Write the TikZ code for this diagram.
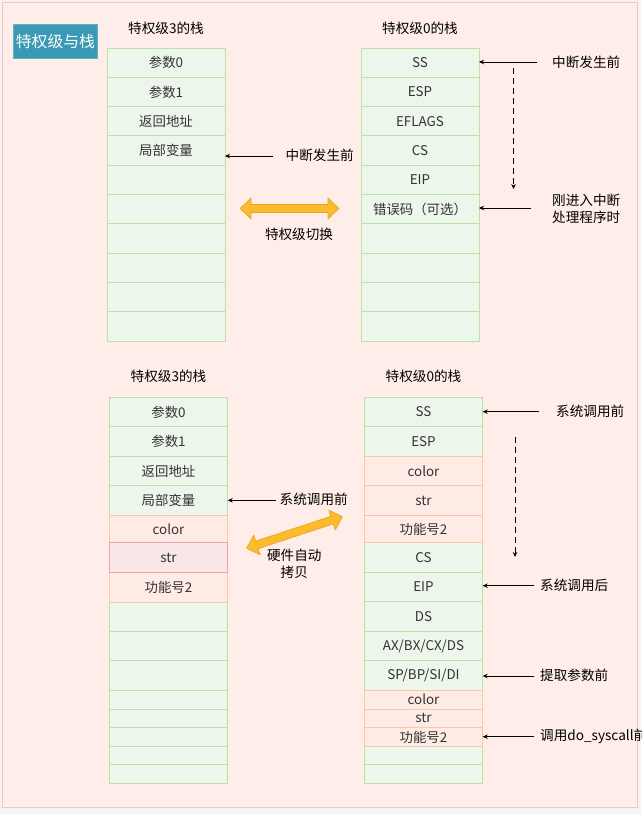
\documentclass[tikz,border=0pt]{standalone}
\usepackage{fontspec}
\setmainfont{Noto Sans CJK SC}
\usetikzlibrary{arrows.meta}
\definecolor{outerc}{HTML}{F3F3F3}
\definecolor{bgpink}{HTML}{FFEDE9}
\definecolor{bgline}{HTML}{F6C7B3}
\definecolor{gfill}{HTML}{EDF6EA}
\definecolor{gline}{HTML}{BCE2A8}
\definecolor{pfill}{HTML}{FFEBE5}
\definecolor{pline}{HTML}{F8C7AC}
\definecolor{rfill}{HTML}{F9E7E7}
\definecolor{rline}{HTML}{EBA3A3}
\definecolor{titlec}{HTML}{3A9AB6}
\definecolor{titleline}{HTML}{62B1C8}
\definecolor{txt}{HTML}{333333}
\definecolor{orfill}{HTML}{FBBB2C}
\definecolor{orline}{HTML}{E8A424}
\newcommand\C[7]{\node[#1,minimum width=#6,minimum height=#5,anchor=north west] (#2) at (#3,#4) {#7};}
\newcommand\dblarr[4]{%
  \begin{scope}[shift={(#1,#2)},rotate=#4]
    \pgfmathsetmacro\hh{#3/2}
    \filldraw[fill=orfill,draw=orline,line width=0.6pt,line join=round]
      (-\hh,0) -- (-\hh+11,-10.5) -- (-\hh+11,-4) -- (\hh-11,-4) -- (\hh-11,-10.5) -- (\hh,0)
      -- (\hh-11,10.5) -- (\hh-11,4) -- (-\hh+11,4) -- (-\hh+11,10.5) -- cycle;
  \end{scope}}
\begin{document}
\begin{tikzpicture}[x=1pt,y=-1pt,
  cellbase/.style={inner sep=0pt,outer sep=0pt,line width=1pt,text=txt,font=\fontsize{13.4}{15}\selectfont},
  gcell/.style={cellbase,fill=gfill,draw=gline},
  pcell/.style={cellbase,fill=pfill,draw=pline},
  rcell/.style={cellbase,fill=rfill,draw=rline},
  lbl/.style={inner sep=0pt,text=black,font=\fontsize{13.6}{17}\selectfont},
  arr/.style={line width=0.9pt,-{Stealth[length=5pt,width=4.5pt]}},
  darr/.style={arr,dash pattern=on 6pt off 4pt}]
\useasboundingbox (0,0) rectangle (641,814);
\fill[outerc] (0,0) rectangle (641,814);
\draw[fill=bgpink,draw=bgline,line width=1pt] (2.5,2.5) rectangle (637,807.5);
% title
\node[fill=titlec,draw=titleline,line width=0.8pt,text=white,minimum width=84,minimum height=34,inner sep=0pt,anchor=north west,font=\fontsize{15.8}{18}\selectfont] (title) at (13,24) {特权级与栈};
% top stack titles
\node[lbl] (t3a) at (166,28) {特权级3的栈};
\node[lbl] (t0a) at (420,28) {特权级0的栈};
% top-left stack
\C{gcell}{a1}{107}{48}{29.3}{118}{参数0}
\C{gcell}{a2}{107}{77.3}{29.3}{118}{参数1}
\C{gcell}{a3}{107}{106.6}{29.3}{118}{返回地址}
\C{gcell}{a4}{107}{135.9}{29.3}{118}{局部变量}
\C{gcell}{a5}{107}{165.2}{29.3}{118}{}
\C{gcell}{a6}{107}{194.5}{29.3}{118}{}
\C{gcell}{a7}{107}{223.8}{29.3}{118}{}
\C{gcell}{a8}{107}{253.1}{29.3}{118}{}
\C{gcell}{a9}{107}{282.4}{29.3}{118}{}
\C{gcell}{a10}{107}{311.7}{29.3}{118}{}
% top-right stack
\C{gcell}{b1}{361}{48}{29.3}{118}{SS}
\C{gcell}{b2}{361}{77.3}{29.3}{118}{ESP}
\C{gcell}{b3}{361}{106.6}{29.3}{118}{EFLAGS}
\C{gcell}{b4}{361}{135.9}{29.3}{118}{CS}
\C{gcell}{b5}{361}{165.2}{29.3}{118}{EIP}
\C{gcell}{b6}{361}{194.5}{29.3}{118}{错误码（可选）}
\C{gcell}{b7}{361}{223.8}{29.3}{118}{}
\C{gcell}{b8}{361}{253.1}{29.3}{118}{}
\C{gcell}{b9}{361}{282.4}{29.3}{118}{}
\C{gcell}{b10}{361}{311.7}{29.3}{118}{}
% top labels and arrows
\node[lbl,anchor=west] (la) at (285.5,155) {中断发生前};
\coordinate (la0) at (273,156);
\draw[arr] (la0) -- (la0 -| a4.east);
\node[lbl,anchor=west] (lb1) at (552,62) {中断发生前};
\coordinate (lb10) at (536.5,62);
\draw[arr] (lb10) -- (lb10 -| b1.east);
\node[lbl,anchor=west,align=left] (lb2) at (552,208.5) {刚进入中断\\处理程序时};
\coordinate (lb20) at (531,208);
\draw[arr] (lb20) -- (lb20 -| b6.east);
\coordinate (da1) at (513.5,68);
\coordinate (da2) at (513.5,189);
\draw[darr] (da1) -- (da2);
\dblarr{289.5}{208.5}{99}{0}
\node[lbl] (sw) at (299,234.5) {特权级切换};
% bottom stack titles
\node[lbl] (t3b) at (168.5,376) {特权级3的栈};
\node[lbl] (t0b) at (423.5,376) {特权级0的栈};
% bottom-left stack
\C{gcell}{c1}{109.3}{397.3}{29.4}{118.4}{参数0}
\C{gcell}{c2}{109.3}{426.7}{30}{118.4}{参数1}
\C{gcell}{c3}{109.3}{456.7}{29}{118.4}{返回地址}
\C{gcell}{c4}{109.3}{485.7}{29.6}{118.4}{局部变量}
\C{gcell}{c8}{109.3}{602}{29.3}{118.4}{}
\C{gcell}{c9}{109.3}{631.3}{29.4}{118.4}{}
\C{gcell}{c10}{109.3}{660.7}{29.3}{118.4}{}
\C{gcell}{c11}{109.3}{690}{19}{118.4}{}
\C{gcell}{c12}{109.3}{709}{18.7}{118.4}{}
\C{gcell}{c13}{109.3}{727.7}{18.6}{118.4}{}
\C{gcell}{c14}{109.3}{746.3}{18.4}{118.4}{}
\C{gcell}{c15}{109.3}{764.7}{18.6}{118.4}{}
\C{pcell}{c5}{109.3}{515.3}{27.4}{118.4}{color}
\C{pcell}{c7}{109.3}{572.3}{29.7}{118.4}{功能号2}
\C{rcell}{c6}{109.3}{542.7}{29.6}{118.4}{str}
% bottom-right stack
\C{gcell}{d1}{364.3}{397.3}{29.4}{118.4}{SS}
\C{gcell}{d2}{364.3}{426.7}{30}{118.4}{ESP}
\C{gcell}{d6}{364.3}{542.7}{29.6}{118.4}{CS}
\C{gcell}{d7}{364.3}{572.3}{29.4}{118.4}{EIP}
\C{gcell}{d8}{364.3}{601.7}{30}{118.4}{DS}
\C{gcell}{d9}{364.3}{631.7}{29}{118.4}{AX/BX/CX/DS}
\C{gcell}{d10}{364.3}{660.7}{29.3}{118.4}{SP/BP/SI/DI}
\C{gcell}{d14}{364.3}{746.3}{18.4}{118.4}{}
\C{gcell}{d15}{364.3}{764.7}{18.6}{118.4}{}
\C{pcell}{d3}{364.3}{456.7}{29}{118.4}{color}
\C{pcell}{d4}{364.3}{485.7}{29.6}{118.4}{str}
\C{pcell}{d5}{364.3}{515.3}{27.4}{118.4}{功能号2}
\C{pcell}{d11}{364.3}{690}{19}{118.4}{color}
\C{pcell}{d12}{364.3}{709}{18.7}{118.4}{str}
\C{pcell}{d13}{364.3}{727.7}{18.6}{118.4}{功能号2}
% bottom labels and arrows
\node[lbl,anchor=west] (lc) at (279.5,499.5) {系统调用前};
\coordinate (lc0) at (276,500.3);
\draw[arr] (lc0) -- (lc0 -| c4.east);
\dblarr{294.5}{532.5}{101}{18.3}
\node[lbl,align=center] (hw) at (294.3,563.5) {硬件自动\\拷贝};
\node[lbl,anchor=west] (ld1) at (556,411) {系统调用前};
\coordinate (ld10) at (539,411.7);
\draw[arr] (ld10) -- (ld10 -| d1.east);
\coordinate (db1) at (515,436.7);
\coordinate (db2) at (515,557);
\draw[darr] (db1) -- (db2);
\node[lbl,anchor=west] (ld2) at (540,585) {系统调用后};
\coordinate (ld20) at (534,585.7);
\draw[arr] (ld20) -- (ld20 -| d7.east);
\node[lbl,anchor=west] (ld3) at (540,675.5) {提取参数前};
\coordinate (ld30) at (534,676);
\draw[arr] (ld30) -- (ld30 -| d10.east);
\node[lbl,anchor=west] (ld4) at (540,736) {调用do\_syscall前};
\coordinate (ld40) at (534,736.7);
\draw[arr] (ld40) -- (ld40 -| d13.east);
\end{tikzpicture}
\end{document}
